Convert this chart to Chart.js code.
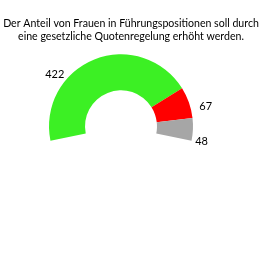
<!DOCTYPE html>
<html>
<head>
<meta charset="utf-8">
<script src="https://cdn.jsdelivr.net/npm/chart.js@4"></script>
<style>
  html, body { margin: 0; padding: 0; background: #fff; }
  #wrap { width: 265px; height: 255px; }
</style>
</head>
<body>
<div id="wrap"><canvas id="chart"></canvas></div>
<script>
const titleLines = ['Der Anteil von Frauen in Führungspositionen soll durch', 'eine gesetzliche Quotenregelung erhöht werden.'];
const categories = ['Ja', 'Nein', 'Weiß nicht'];
const values = [422, 67, 48];
const colors = ['#3cf024', '#ff0000', '#a6a6a6'];

// where along each slice the label sits, and how far outside the ring
const labelFrac = [0.31, 0.74, 0.95];
const labelGap = [12, 15, 10];

const fontFamily = 'Lato, "Liberation Sans", sans-serif';

// the title spans the whole canvas, not just the padded chart area
const pageTitle = {
  id: 'pageTitle',
  afterDraw(chart) {
    const ctx = chart.ctx;
    ctx.save();
    ctx.font = '10.6px ' + fontFamily;
    ctx.fillStyle = '#000';
    ctx.textAlign = 'center';
    ctx.textBaseline = 'alphabetic';
    titleLines.forEach((line, i) => {
      ctx.fillText(line, chart.width / 2 - 1.5, 27 + i * 13);
    });
    ctx.restore();
  }
};

const outsideLabels = {
  id: 'outsideLabels',
  afterDatasetsDraw(chart) {
    const ctx = chart.ctx;
    const meta = chart.getDatasetMeta(0);
    ctx.save();
    ctx.font = '11px ' + fontFamily;
    ctx.fillStyle = '#000';
    ctx.textAlign = 'center';
    ctx.textBaseline = 'middle';
    meta.data.forEach((arc, i) => {
      const p = arc.getProps(['x', 'y', 'startAngle', 'endAngle', 'outerRadius'], true);
      const a = p.startAngle + (p.endAngle - p.startAngle) * labelFrac[i];
      const r = p.outerRadius + labelGap[i];
      ctx.fillText(String(values[i]), p.x + Math.cos(a) * r, p.y + Math.sin(a) * r);
    });
    ctx.restore();
  }
};

new Chart(document.getElementById('chart'), {
  type: 'doughnut',
  data: {
    labels: categories,
    datasets: [{
      data: values,
      backgroundColor: colors,
      borderWidth: 0,
      hoverOffset: 0
    }]
  },
  options: {
    responsive: true,
    maintainAspectRatio: false,
    animation: false,
    rotation: -101.5,
    circumference: 203,
    cutout: '50%',
    layout: {
      padding: { left: 49, right: 72, top: 54, bottom: 114 }
    },
    plugins: {
      legend: { display: false },
      tooltip: { enabled: false },
      title: { display: false }
    }
  },
  plugins: [outsideLabels, pageTitle]
});
</script>
</body>
</html>
